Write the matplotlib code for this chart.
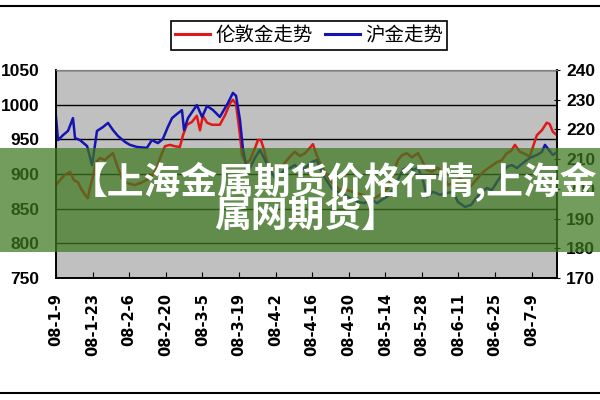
import matplotlib
matplotlib.use('Agg')
from matplotlib import pyplot as plt
from matplotlib.lines import Line2D
from matplotlib.patches import Rectangle

plt.rcParams['font.family'] = ['Noto Sans CJK SC', 'DejaVu Sans']

# days since 2008-01-09
london_days = [0, 1.5, 3.4, 5.4, 6.9, 8.4, 9.9, 11.5, 12.2, 13.0, 14.2, 15.3, 16.8, 18.7, 20.7,
               21.8, 23.3, 25.2, 27.2, 30.2, 32.9, 36.0, 38.3, 39.8, 41.7, 43.6, 45.5, 47.4,
               48.6, 50.1, 52.0, 53.9, 55.1, 56.2, 57.8, 59.7, 62.7, 64.7, 66.6, 67.7, 68.9,
               70.4, 71.2, 72.7, 74.2, 76.1, 77.3, 78.4, 79.6, 81.1, 82.6, 84.5, 86.8, 89.5,
               91.4, 93.3, 95.3, 97.2, 98.3, 99.8, 101.0, 102.9, 104.8, 106.7, 108.6, 111.3,
               114.4, 117.4, 120.1, 123.2, 125.5, 127.0, 128.9, 130.8, 132.4, 134.3, 136.2,
               138.5, 140.0, 141.9, 143.8, 146.1, 148.0, 150.0, 151.9, 154.6, 156.5, 158.4,
               160.7, 163.0, 164.5, 166.0, 168.7, 170.6, 172.5, 174.1, 175.6, 177.5, 179.4,
               181.3, 182.5, 184.0, 185.9, 187.8, 188.9, 190.1, 191.7]
london_gold = [884, 891, 899, 903, 891, 888, 877, 868, 865, 880, 897, 917, 923, 920, 927,
               930, 913, 894, 887, 884, 888, 894, 906, 923, 940, 942, 940, 939,
               956, 971, 975, 984, 963, 984, 974, 971, 971, 985, 1002, 1007, 1001,
               956, 927, 916, 920, 937, 949, 949, 935, 913, 909, 906, 913, 925,
               932, 926, 930, 938, 943, 927, 916, 903, 891, 884, 877, 877,
               873, 870, 863, 868, 874, 880, 899, 920, 927, 930, 924,
               930, 920, 906, 903, 909, 901, 884, 887, 894, 888, 881,
               891, 901, 906, 910, 917, 920, 930, 933, 942, 932, 929,
               925, 939, 956, 963, 974, 972, 961, 956]

shanghai_days = [0, 0.8, 2.7, 4.6, 6.5, 7.3, 9.2, 11.9, 13.8, 15.7, 18.0, 19.9, 21.8, 23.7,
                 26.4, 28.3, 31.0, 34.8, 36.7, 39.0, 40.9, 42.8, 44.4, 46.3, 48.2, 49.0,
                 50.5, 53.9, 55.9, 57.8, 60.1, 62.7, 65.8, 67.7, 68.9, 70.4, 71.5, 72.7,
                 74.2, 76.1, 78.0, 80.0, 81.9, 83.8, 85.7, 87.6, 89.5, 91.4, 93.3, 95.3,
                 97.9, 99.8, 101.0, 102.9, 106.0, 109.4, 112.5, 115.5, 118.2, 120.1, 122.8,
                 124.7, 126.6, 128.9, 130.8, 132.7, 134.7, 136.6, 138.5, 140.4, 141.9,
                 144.2, 146.9, 149.6, 151.9, 153.8, 156.5, 158.8, 161.1, 163.0, 164.9,
                 166.8, 168.7, 170.6, 172.5, 174.4, 176.4, 178.7, 181.3, 184.0, 185.9,
                 187.1, 188.6, 190.1, 191.7]
shanghai_gold = [224.2, 216.4, 218.1, 219.5, 223.8, 217.1, 216.4, 214.4, 208.0, 219.5, 220.8,
                 222.2, 219.8, 217.8, 215.8, 214.8, 214.1, 213.8, 216.4, 215.4, 216.8, 220.8,
                 223.8, 225.2, 226.5, 219.8, 223.8, 228.2, 224.2, 227.9, 226.5, 224.2, 228.9,
                 232.3, 231.3, 223.2, 213.8, 208.0, 207.0, 210.4, 213.1, 209.7, 206.4, 203.7,
                 204.7, 206.4, 207.0, 208.0, 206.4, 207.0, 209.0, 209.7, 207.0, 203.7, 199.6,
                 198.6, 196.9, 195.6, 195.2, 196.9, 195.2, 196.3, 197.3, 199.6, 203.0, 206.4,
                 207.4, 206.4, 207.0, 203.0, 197.3, 199.0, 198.0, 198.6, 199.0, 195.6, 193.9,
                 194.6, 197.3, 199.0, 200.3, 199.6, 202.3, 204.7, 207.4, 208.0, 207.0, 208.7,
                 210.4, 211.4, 212.4, 214.8, 213.1, 211.4, 212.4]

tick_days = [0, 14, 28, 42, 56, 70, 84, 98, 112, 126, 140, 154, 168, 182]
tick_labels = ['08-1-9', '08-1-23', '08-2-6', '08-2-20', '08-3-5', '08-3-19', '08-4-2',
               '08-4-16', '08-4-30', '08-5-14', '08-5-28', '08-6-11', '08-6-25', '08-7-9']

fig = plt.figure(figsize=(6, 4), dpi=100)
ax = fig.add_axes([0.0933, 0.305, 0.835, 0.52])
ax2 = ax.twinx()

ax.set_facecolor('#c0c0c0')
l1, = ax.plot(london_days, london_gold, color='#e01818', lw=1.8, label='伦敦金走势')
l2, = ax2.plot(shanghai_days, shanghai_gold, color='#1414b4', lw=1.8, label='沪金走势')

ax.set_xlim(0, 191.7)
ax.set_ylim(750, 1050)
ax2.set_ylim(170, 240)
ax.set_yticks(range(750, 1051, 50))
ax2.set_yticks(range(170, 241, 10))
ax.set_xticks(tick_days)
ax.set_xticklabels(tick_labels, rotation=90, va='top', ha='center',
                   family='DejaVu Sans', weight='bold', fontsize=10.5)
for t in ax.get_yticklabels():
    t.set_family('Liberation Sans'); t.set_weight('bold'); t.set_fontsize(12.5)
for t in ax2.get_yticklabels():
    t.set_family('Liberation Sans'); t.set_weight('bold'); t.set_fontsize(12.5)

ax.grid(axis='y', color='black', lw=1)
ax.grid(axis='x', visible=False)
ax.set_axisbelow(True)
ax.tick_params(axis='x', direction='in', length=4, pad=11, color='black')
ax.tick_params(axis='y', length=0, pad=12)
ax2.tick_params(axis='y', direction='inout', length=5, pad=4)
for a in (ax, ax2):
    for s in ('left', 'right', 'bottom'):
        a.spines[s].set_color('black')
        a.spines[s].set_linewidth(1.2)
    a.spines['top'].set_color('#808080')

leg = fig.legend(handles=[l1, l2], loc='center', bbox_to_anchor=(0.515, 0.911), ncol=2,
                 fontsize=14, handlelength=1.8, handletextpad=0.3, columnspacing=0.6,
                 borderpad=0.2, fancybox=False, framealpha=1, edgecolor='black')
leg.get_frame().set_linewidth(1.2)
for ln in leg.get_lines():
    ln.set_linewidth(2.2)

# outer frame lines
fig.add_artist(Line2D([0, 1], [0.985, 0.985], color='black', lw=1.5))
fig.add_artist(Line2D([0, 1], [0.018, 0.018], color='black', lw=1.5))

# green banner overlay
fig.add_artist(Rectangle((0, 0.37), 1, 0.26, transform=fig.transFigure,
                         facecolor=(0.24, 0.47, 0.12), alpha=0.72, lw=0, zorder=10))
fig.text(0.557, 0.546, '【上海金属期货价格行情,上海金', color='white', fontsize=26.5,
         weight='bold', ha='center', va='center', zorder=11,
         family=['Noto Sans CJK SC', 'DejaVu Sans'])
fig.text(0.51, 0.459, '属网期货】', color='white', fontsize=26.5,
         weight='bold', ha='center', va='center', zorder=11,
         family=['Noto Sans CJK SC', 'DejaVu Sans'])

fig.savefig('out.png', dpi=100)
